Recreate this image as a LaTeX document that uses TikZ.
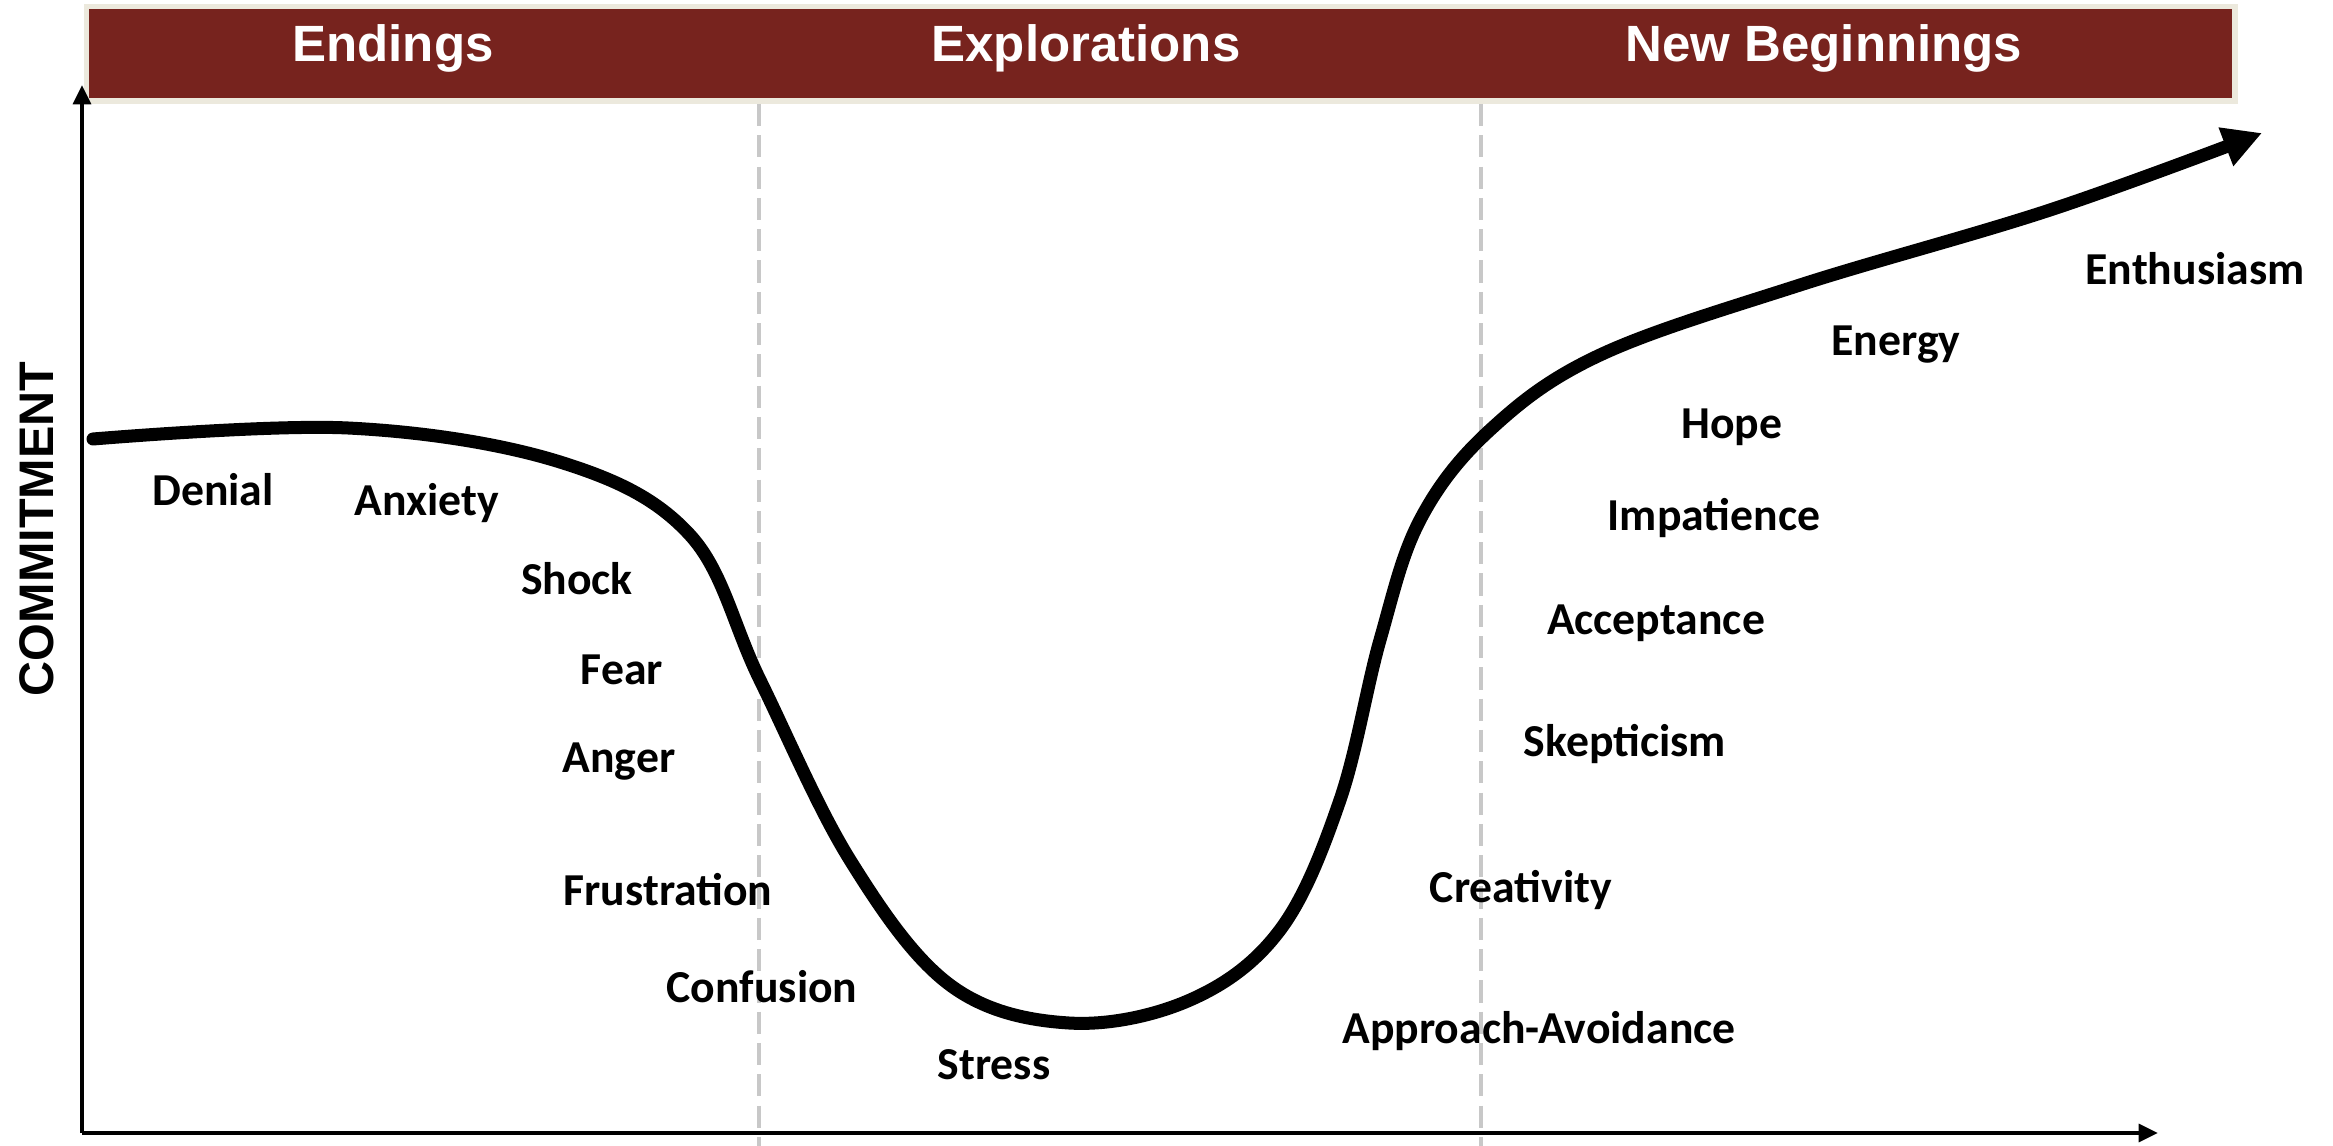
\documentclass[tikz,border=0pt]{standalone}
\usepackage{fontspec}
\setmainfont{Carlito}
\newfontfamily\headfont{Liberation Sans}
\usetikzlibrary{arrows.meta}
\definecolor{barred}{HTML}{77231E}
\definecolor{barrim}{HTML}{ECE9DD}
\definecolor{guide}{HTML}{C8C8C8}

\begin{document}
\begin{tikzpicture}[x=0.01cm,y=-0.01cm,
  mood/.style={font=\fontsize{13}{15}\selectfont\bfseries, inner sep=0pt},
  phase/.style={font=\headfont\fontsize{14.5}{16}\selectfont\bfseries, text=white, inner sep=0pt, anchor=base},
  axisline/.style={line width=1.2pt, -{Triangle[length=5.5pt,width=5pt]}},
  guideline/.style={draw=guide, line width=0.9pt, dash pattern=on 6.3pt off 2.6pt},
  curveline/.style={line width=3.7pt, line cap=round, -{Triangle[length=11pt,width=11pt]}}]
\useasboundingbox (0,0) rectangle (2333,1146);

% phase banner
\fill[barrim] (84,4) rectangle (2238,104);
\fill[barred] (89,9) rectangle (2232,98);
\node[phase] (endings) at (393,62) {Endings};
\node[phase] (explorations) at (1086,62) {Explorations};
\node[phase] (newbeg) at (1824,62) {New Beginnings};

% phase boundaries
\coordinate (g1top) at (759,104);  \coordinate (g1bot) at (759,1146);
\coordinate (g2top) at (1481,104); \coordinate (g2bot) at (1481,1146);
\draw[guideline] (g1top) -- (g1bot);
\draw[guideline] (g2top) -- (g2bot);

% axes
\coordinate (origin) at (82,1133);
\coordinate (ytip) at (82,85);
\coordinate (xtip) at (2158,1133);
\draw[axisline] (origin) -- (ytip);
\draw[axisline] (origin) -- (xtip);
\node[font=\headfont\fontsize{13.8}{16}\selectfont\bfseries, rotate=90, inner sep=0pt] (ylabel) at (37,529) {COMMITMENT};

% change curve
\draw[curveline] plot[smooth, tension=0.6] coordinates {
  (93,439) (348,428) (560,462) (690,535) (760,680) (850,860) (950,985)
  (1069,1023) (1190,1000) (1280,930) (1340,800) (1380,640) (1420,520)
  (1490,430) (1600,355) (1800,285) (2050,210) (2262,133)};

% emotions along the curve
\node[mood] (denial)      at (213,490)  {Denial};
\node[mood] (anxiety)     at (427,503)  {Anxiety};
\node[mood] (shock)       at (577,579)  {Shock};
\node[mood] (fear)        at (622,670)  {Fear};
\node[mood] (anger)       at (619,762)  {Anger};
\node[mood] (frustration) at (668,890)  {Frustration};
\node[mood] (confusion)   at (762,987)  {Confusion};
\node[mood] (stress)      at (994,1065) {Stress};
\node[mood] (approach)    at (1539,1031) {Approach-Avoidance};
\node[mood] (creativity)  at (1521,890) {Creativity};
\node[mood] (skepticism)  at (1625,744) {Skepticism};
\node[mood] (acceptance)  at (1656,623) {Acceptance};
\node[mood] (impatience)  at (1714,518) {Impatience};
\node[mood] (hope)        at (1732,427) {Hope};
\node[mood] (energy)      at (1896,345) {Energy};
\node[mood] (enthusiasm)  at (2195,269) {Enthusiasm};
\end{tikzpicture}
\end{document}
